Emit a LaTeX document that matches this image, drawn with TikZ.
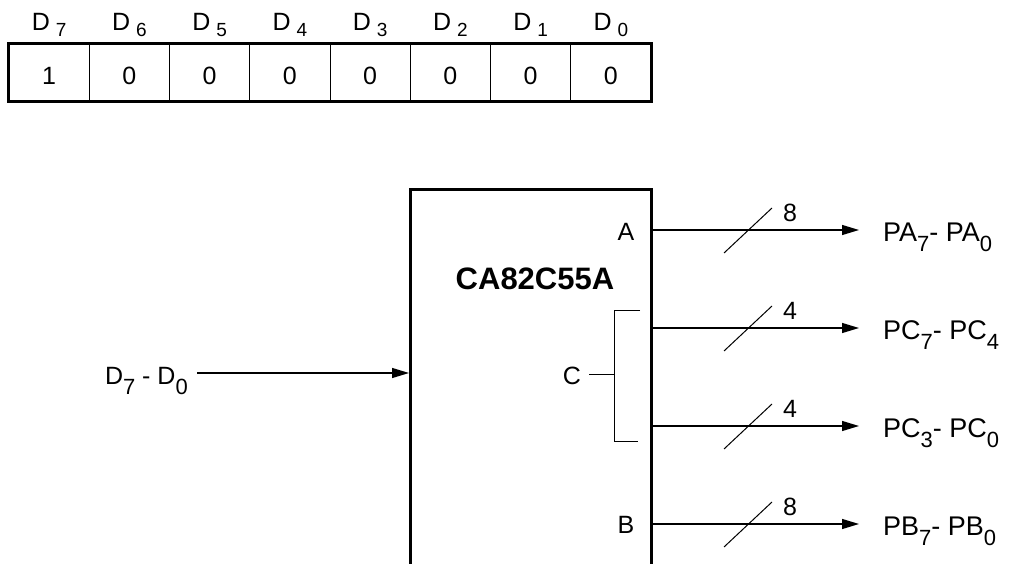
\documentclass[tikz,border=0pt]{standalone}
\usepackage{fontspec}
\setmainfont{Liberation Sans}
\setsansfont{Liberation Sans}
\usepackage{tikz}
\usetikzlibrary{arrows.meta,positioning,calc}

% lowered index digits
\newcommand\lsub[1]{\raisebox{-10pt}{\fontsize{22pt}{22pt}\selectfont #1}}
\newcommand\tsub[1]{\raisebox{-6pt}{\fontsize{19pt}{19pt}\selectfont #1}}

\begin{document}
\begin{tikzpicture}[x=1pt, y=-1pt,
    font=\fontsize{25pt}{30pt}\selectfont,
    >={Triangle[length=17pt,width=10pt]},
    bitcell/.style={rectangle, draw, line width=1pt, minimum width=80.25pt,
      minimum height=57pt, inner sep=0pt, text height=25pt, text depth=0pt},
    bitlbl/.style={inner sep=0pt, anchor=base},
    chipbox/.style={rectangle, draw, line width=3pt, minimum width=241pt,
      minimum height=420pt, anchor=north west, inner sep=0pt},
    port/.style={inner sep=0pt},
    bus/.style={->, line width=1.2pt},
    slash/.style={line width=1pt},
    pinlbl/.style={anchor=base west, inner sep=0pt,
      font=\fontsize{27pt}{32pt}\selectfont}]

    \useasboundingbox (0,0) rectangle (1009,564);
    \clip (0,0) rectangle (1009,564);

    % control word register
    \foreach \b [count=\i from 0] in {1,0,0,0,0,0,0,0} {
      \pgfmathtruncatemacro\bitno{7-\i}
      \node[bitcell] (cell\i) at ({9+80.25*(\i+0.5)},72.5) {\b};
      \node[bitlbl] (dlbl\i) at ({9+80.25*(\i+0.5)},31) {D\hspace{6pt}\tsub{\bitno}};
    }
    \draw[line width=2.5pt] (cell0.north west) rectangle (cell7.south east);

    % the chip
    \node[chipbox] (chip) at (409,188) {};
    \node[font=\bfseries\fontsize{31pt}{36pt}\selectfont, inner sep=0pt]
      (chipname) at (535,279) {CA82C55A};
    \node[port] (portA) at (626,232) {A};
    \node[port] (portB) at (626,525) {B};
    \node[port] (portC) at (572,376) {C};

    % port C bracket
    \coordinate (brkMid) at (614,374);
    \draw[slash] (640,310) -- (614,310) -- (614,441) -- (638,441);
    \draw[slash] (brkMid) -- ++(-25,0);

    % data bus in
    \node[anchor=base east, inner sep=0pt] (dbus) at (188,384) {D\lsub{7} - D\lsub{0}};
    \coordinate (inStart) at (197,373);
    \draw[bus] (inStart) -- (inStart -| chip.west);

    % port outputs
    \foreach \nm/\yy/\nb/\txt in {A/230/8/{PA\lsub{7}- PA\lsub{0}},
        Chi/328/4/{PC\lsub{7}- PC\lsub{4}},
        Clo/426/4/{PC\lsub{3}- PC\lsub{0}},
        B/524/8/{PB\lsub{7}- PB\lsub{0}}} {
      \coordinate (tip\nm) at (859,\yy);
      \draw[bus] (chip.east |- tip\nm) -- (tip\nm);
      \draw[slash] (724,\yy+23) -- (772,\yy-22);
      \node[inner sep=0pt] (w\nm) at (790,\yy-17) {\nb};
      \node[pinlbl] (out\nm) at (883,\yy+11) {\txt};
    }
  \end{tikzpicture}
\end{document}
